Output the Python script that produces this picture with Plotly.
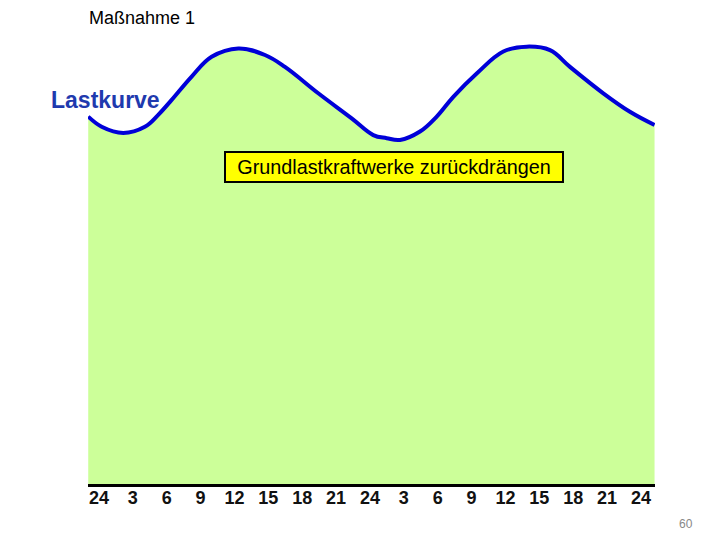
import plotly.graph_objects as go

# Stunden (zwei Tage, 0 = 24 Uhr)
hours = [-0.95, 0.24, 2.15, 4.07, 5.25, 6.44, 8.21, 9.98, 12.34, 14.70, 16.47,
         19.42, 22.38, 24.29, 25.48, 26.66, 28.43, 29.91, 31.38, 33.45, 35.81,
         37.88, 39.94, 41.71, 44.66, 47.02, 49.2]
load = [83.5, 81.2, 79.8, 81.2, 83.9, 87.3, 92.6, 97.1, 99.0, 97.5, 94.8,
        88.8, 83.1, 79.3, 78.6, 78.2, 80.1, 83.5, 88.0, 93.3, 98.3,
        99.4, 98.6, 94.8, 88.8, 84.6, 81.6]

tick_vals = [0, 3, 6, 9, 12, 15, 18, 21, 24, 27, 30, 33, 36, 39, 42, 45, 48]
tick_text = ["24", "3", "6", "9", "12", "15", "18", "21", "24",
             "3", "6", "9", "12", "15", "18", "21", "24"]

fig = go.Figure()
fig.add_trace(go.Scatter(
    x=hours, y=load, mode="lines",
    line=dict(color="#0000D8", width=4, shape="spline", smoothing=1.1),
    fill="tozeroy", fillcolor="#CCFF99",
    hoverinfo="skip", showlegend=False,
))

fig.update_layout(
    width=720, height=540,
    margin=dict(l=80, r=73, t=36, b=64),
    paper_bgcolor="white", plot_bgcolor="white",
    xaxis=dict(range=[-0.97, 49.24], tickvals=tick_vals, ticktext=tick_text,
               showgrid=False, zeroline=False, showline=True,
               linecolor="black", linewidth=3, ticks="",
               ticklabelstandoff=-5,
               tickfont=dict(family="Liberation Sans Narrow, Arial Narrow, Liberation Sans, Arial",
                             size=18, color="#111111", weight="bold"),
               fixedrange=True),
    yaxis=dict(range=[0, 100], visible=False, fixedrange=True),
    annotations=[
        dict(text="Maßnahme 1", xref="paper", yref="paper", x=0.0952, y=1.059,
             xanchor="center", yanchor="middle",
             showarrow=False, font=dict(family="Liberation Sans, Arial", size=18, color="black")),
        dict(text="<b>Lastkurve</b>", xref="paper", yref="paper", x=0.0317, y=0.873,
             xanchor="center", yanchor="middle",
             showarrow=False, font=dict(family="Liberation Sans, Arial", size=23, color="#1F3AAE")),
        dict(text="Grundlastkraftwerke zurückdrängen", xref="paper", yref="paper",
             x=0.5397, y=0.7205, xanchor="center", yanchor="middle",
             showarrow=False, bgcolor="#FFFF00",
             bordercolor="black", borderwidth=2, borderpad=0, width=336, height=28,
             font=dict(family="Liberation Sans, Arial", size=19.8, color="black")),
        dict(text="60", xref="paper", yref="paper", x=1.0547, y=-0.0909,
             xanchor="center", yanchor="middle",
             showarrow=False, font=dict(family="Liberation Sans, Arial", size=12, color="#888888")),
    ],
)

fig.write_html("out.html")
